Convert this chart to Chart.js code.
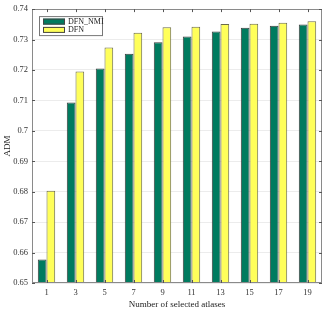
<!DOCTYPE html>
<html><head><meta charset="utf-8">
<script src="https://cdn.jsdelivr.net/npm/chart.js@4/dist/chart.umd.min.js"></script>
<style>html,body{margin:0;padding:0;background:#fff}#c{display:block}</style>
</head><body>
<canvas id="c" width="327" height="312"></canvas>
<script>
const categories = ['1','3','5','7','9','11','13','15','17','19'];
const dfnNmi = [0.6577,0.7093,0.7205,0.7253,0.7291,0.7310,0.7326,0.7339,0.7345,0.7349];
const dfn    = [0.6803,0.7195,0.7274,0.7322,0.7340,0.7342,0.7351,0.7352,0.7355,0.7360];
const seriesNames = ['DFN_NMI','DFN'];
const yTickLabels = ['0.65','0.66','0.67','0.68','0.69','0.7','0.71','0.72','0.73','0.74'];
const xTitle = 'Number of selected atlases';
const yTitle = 'ADM';

const GREEN = '#007b5f', YELLOW = '#ffff5a';
const FONT = 'Liberation Serif';

const framePlugin = {
  id: 'frame',
  afterDraw(chart) {
    const ctx = chart.ctx, a = chart.chartArea;
    const xs = chart.scales.x, ys = chart.scales.y;
    ctx.save();
    ctx.strokeStyle = '#8a8a8a';
    ctx.lineWidth = 1;
    ctx.strokeRect(Math.round(a.left)+0.5, Math.round(a.top)+0.5, Math.round(a.right-a.left)-1, Math.round(a.bottom-a.top)-1);
    ctx.strokeStyle = '#555';
    ctx.beginPath();
    const L = 3;
    xs.ticks.forEach((t,i) => {
      const x = Math.round(xs.getPixelForTick(i)) + 0.5;
      ctx.moveTo(x, a.top); ctx.lineTo(x, a.top + L);
      ctx.moveTo(x, a.bottom); ctx.lineTo(x, a.bottom - L);
    });
    ys.ticks.forEach((t,i) => {
      const y = Math.round(ys.getPixelForTick(i)) + 0.5;
      ctx.moveTo(a.left, y); ctx.lineTo(a.left + L, y);
      ctx.moveTo(a.right, y); ctx.lineTo(a.right - L, y);
    });
    ctx.stroke();
    // legend
    const bx = a.left + 7, by = a.top + 7, bw = 63, bh = 19;
    ctx.fillStyle = '#fff';
    ctx.fillRect(bx, by, bw, bh);
    ctx.strokeStyle = '#777';
    ctx.strokeRect(bx + 0.5, by + 0.5, bw, bh);
    ctx.font = '8px "' + FONT + '"';
    ctx.textBaseline = 'middle';
    chart.data.datasets.forEach((ds, i) => {
      const sy = by + 2.5 + i * 8.3;
      ctx.fillStyle = ds.backgroundColor;
      ctx.fillRect(bx + 4, sy, 22, 6);
      ctx.strokeStyle = '#444';
      ctx.strokeRect(bx + 4.5, sy + 0.5, 21, 5);
      ctx.fillStyle = '#222';
      ctx.fillText(ds.label, bx + 29, sy + 3.3);
    });
    ctx.restore();
  }
};

new Chart(document.getElementById('c'), {
  type: 'bar',
  data: {
    labels: categories,
    datasets: [
      { label: seriesNames[0], data: dfnNmi, backgroundColor: GREEN, borderColor: '#3d3d3d', borderWidth: 1 },
      { label: seriesNames[1], data: dfn, backgroundColor: YELLOW, borderColor: '#6b6b4a', borderWidth: 1 }
    ]
  },
  options: {
    responsive: false,
    animation: false,
    devicePixelRatio: 1,
    layout: { padding: { left: 0, right: 5, top: 7, bottom: 0 } },
    datasets: { bar: { categoryPercentage: 0.6, barPercentage: 1.0 } },
    plugins: { legend: { display: false }, tooltip: { enabled: false } },
    scales: {
      x: {
        grid: { display: false, drawTicks: false },
        border: { display: false },
        ticks: { font: { family: FONT, size: 8.5 }, color: '#333', padding: 5, maxRotation: 0 },
        title: { display: true, text: xTitle, font: { family: FONT, size: 9 }, color: '#222', padding: { top: 0, bottom: 2 } },
        afterFit(s) { s.height = 29; }
      },
      y: {
        min: 0.65, max: 0.74,
        afterBuildTicks(s) { s.ticks = yTickLabels.map(v => ({ value: parseFloat(v) })); },
        grid: { color: '#ececec', drawTicks: false },
        border: { display: false },
        ticks: {
          font: { family: FONT, size: 8.5 }, color: '#333', padding: 4,
          callback(v) { const i = yTickLabels.findIndex(t => Math.abs(parseFloat(t) - v) < 1e-9); return i >= 0 ? yTickLabels[i] : ''; }
        },
        title: { display: true, text: yTitle, font: { family: FONT, size: 9 }, color: '#222', padding: { top: 2, bottom: 0 } },
        afterFit(s) { s.width = 32; }
      }
    }
  },
  plugins: [framePlugin]
});
</script>
</body></html>
